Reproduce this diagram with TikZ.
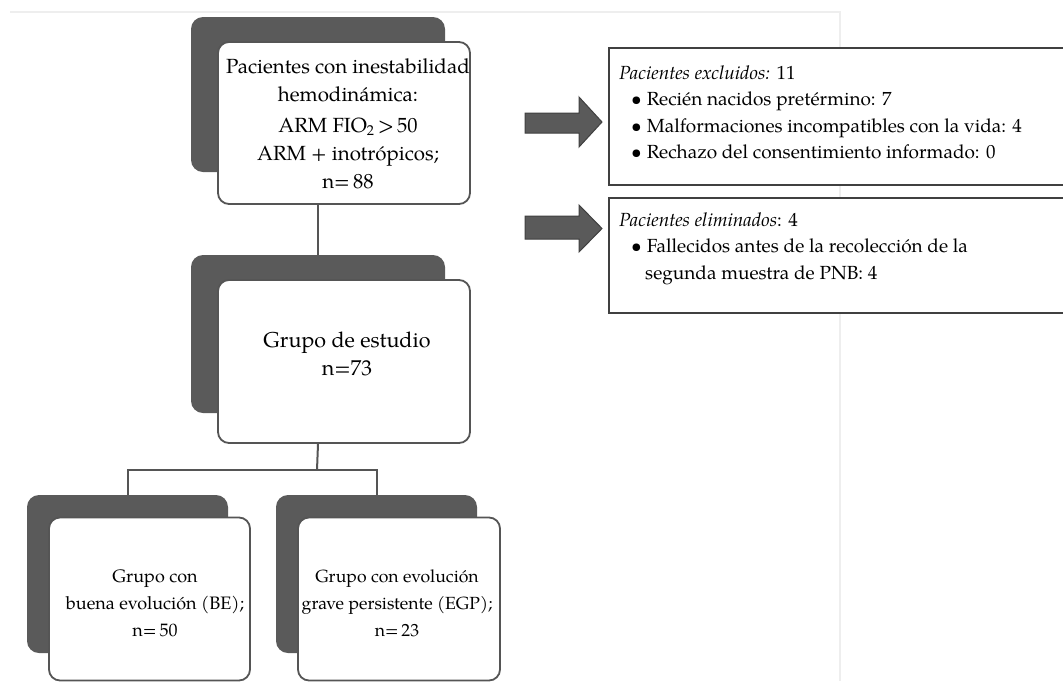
\documentclass[tikz,border=0pt]{standalone}
\usepackage{fontspec}
\setmainfont{TeX Gyre Pagella}
\definecolor{shade}{HTML}{5A5A5A}
\definecolor{edge}{HTML}{555555}
\definecolor{faint}{HTML}{EEEEEE}
\begin{document}
\begin{tikzpicture}[x=1pt,y=-1pt,
  shadowbox/.style={fill=shade,draw=none,rounded corners=12pt,minimum width=#1,inner sep=0pt},
  whitebox/.style={fill=white,draw=edge,line width=1.8pt,rounded corners=11pt,inner sep=0pt},
  conn/.style={draw=edge,line width=2pt},
  bigarrow/.style={fill=shade,draw=black!75,line width=1pt},
  infobox/.style={draw=black!75,line width=1.6pt,fill=white},
  txt/.style={inner sep=0pt,anchor=base west,font=\fontsize{19}{27}\selectfont},
  ctxt/.style={inner sep=0pt,align=center}]
\useasboundingbox (0,0) rectangle (1063,681);
\fill[white] (0,0) rectangle (1063,681);
\draw[faint,line width=1.5pt] (10,12) -- (840,12) -- (840,681);

% top box
\node[shadowbox=254pt,minimum height=155pt] (s1) at (318,94.5) {};
\node[whitebox,minimum width=252pt,minimum height=162pt] (w1) at (344,123) {};
\node[ctxt,font=\fontsize{20.5}{28}\selectfont] (t1) at (348,124) {Pacientes con inestabilidad\\hemodinámica:\\[3pt]ARM FIO\textsubscript{2}\,>\,50\\ARM + inotrópicos;\\n=\,88};

% study group
\node[shadowbox=254pt,minimum height=158pt] (s2) at (318,334) {};
\node[whitebox,minimum width=252pt,minimum height=163pt] (w2) at (344,361.5) {};
\node[ctxt,font=\fontsize{21.5}{28}\selectfont] (t2) at (347,354) {Grupo de estudio\\n=73};

% bottom boxes
\node[shadowbox=201pt,minimum height=158pt] (s3) at (127.5,574) {};
\node[whitebox,minimum width=201pt,minimum height=163pt] (w3) at (149.5,599) {};
\node[ctxt,font=\fontsize{18}{27}\selectfont] (t3) at (155,603) {Grupo con\\buena evolución (BE);\\n=\,50};
\node[shadowbox=201pt,minimum height=158pt] (s4) at (376.5,574) {};
\node[whitebox,minimum width=202pt,minimum height=163pt] (w4) at (399,599) {};
\node[ctxt,font=\fontsize{17.6}{27}\selectfont] (t4) at (397,603) {Grupo con evolución\\grave persistente (EGP);\\n=\,23};

% connectors
\coordinate (j1) at (317,470);
\draw[conn] (s1.center |- w1.south) -- (s2.north);
\draw[conn] (s2.center |- w2.south) -- (j1);
\draw[conn] (s3.north) -- (s3.north |- j1) -- (s4.north |- j1) -- (s4.north);

% arrows
\draw[bigarrow] (525,113) -- (579,113) -- (579,97) -- (602,122) -- (579,147) -- (579,133) -- (525,133) -- cycle;
\draw[bigarrow] (525,216) -- (579,216) -- (579,205) -- (602,228.5) -- (579,252) -- (579,239) -- (525,239) -- cycle;

% info boxes
\node[infobox,anchor=north west,minimum width=480pt,minimum height=137pt,inner sep=0pt] (ex) at (608,47) {};
\node[infobox,anchor=north west,minimum width=480pt,minimum height=115pt,inner sep=0pt] (el) at (608,197) {};

\node[txt] (e1) at (619,79) {\textit{Pacientes excluidos:} 11};
\node[txt] (e2) at (631,105.5) {\textbullet\hspace{5pt}Recién nacidos pretérmino: 7};
\node[txt] (e3) at (631,132) {\textbullet\hspace{5pt}Malformaciones incompatibles con la vida: 4};
\node[txt] (e4) at (631,158.5) {\textbullet\hspace{5pt}Rechazo del consentimiento informado: 0};

\node[txt] (l1) at (619,226) {\textit{Pacientes eliminados}: 4};
\node[txt] (l2) at (631,252.5) {\textbullet\hspace{5pt}Fallecidos antes de la recolección de la};
\node[txt] (l3) at (645,279) {segunda muestra de PNB: 4};
\end{tikzpicture}
\end{document}
